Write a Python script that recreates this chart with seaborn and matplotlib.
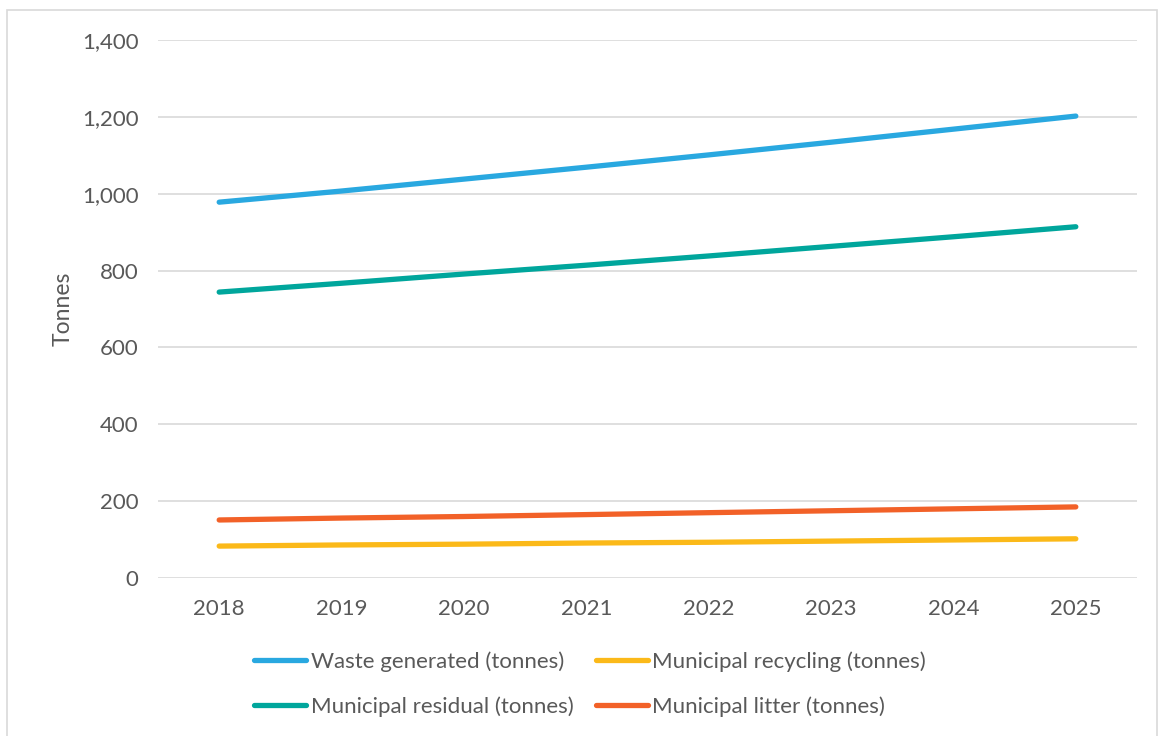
import matplotlib
matplotlib.use("Agg")
import matplotlib.pyplot as plt
from matplotlib.patches import Rectangle
from matplotlib.ticker import FuncFormatter
import seaborn as sns
import pandas as pd

years = ["2018", "2019", "2020", "2021", "2022", "2023", "2024", "2025"]
waste_generated = [978, 1007, 1038, 1069, 1101, 1134, 1168, 1202]
municipal_recycling = [83, 86, 88, 91, 93, 96, 99, 102]
municipal_residual = [744, 767, 791, 814, 838, 863, 888, 914]
municipal_litter = [151, 156, 160, 165, 170, 175, 180, 185]

series_names = ["Waste generated (tonnes)", "Municipal recycling (tonnes)",
                "Municipal residual (tonnes)", "Municipal litter (tonnes)"]
colors = ["#29A8E0", "#FBB919", "#00A69C", "#F26128"]

sns.set_theme(style="white")
plt.rcParams['font.family'] = ['Lato', 'DejaVu Sans']
txt = "#595959"

df = pd.DataFrame({
    "Year": years * 4,
    "Value": waste_generated + municipal_recycling + municipal_residual + municipal_litter,
    "Series": sum([[n] * len(years) for n in series_names], []),
})

fig = plt.figure(figsize=(11.6, 7.36), dpi=100)
ax = fig.add_axes([158 / 1160, 1 - 578 / 736, (1137 - 158) / 1160, (578 - 40) / 736])

lw = 3.8
sns.lineplot(data=df, x="Year", y="Value", hue="Series", palette=colors,
             hue_order=series_names, linewidth=lw, ax=ax, legend=False,
             solid_capstyle="round", sort=False)

ax.set_xlim(-0.5, 7.5)
ax.set_ylim(0, 1400)
ax.set_yticks(range(0, 1401, 200))
ax.yaxis.set_major_formatter(FuncFormatter(lambda v, p: f"{int(v):,}"))
ax.grid(axis="y", color="#d9d9d9", linewidth=1.2)
ax.set_axisbelow(True)
for s in ax.spines.values():
    s.set_visible(False)
ax.tick_params(axis="both", colors=txt, labelsize=16, length=0)
ax.tick_params(axis="x", pad=15)
ax.tick_params(axis="y", pad=14)
ax.set_xlabel("")
ax.set_ylabel("Tonnes", color=txt, fontsize=16.5, labelpad=6)

handles = [plt.Line2D([0], [0], color=c, linewidth=lw, solid_capstyle="round") for c in colors]
order = [0, 2, 1, 3]
leg = fig.legend([handles[i] for i in order], [series_names[i] for i in order],
                 loc="center", bbox_to_anchor=(590 / 1160, 1 - 684 / 736), ncol=2,
                 frameon=False, fontsize=16, labelcolor=txt, handlelength=2.35,
                 handletextpad=0.2, columnspacing=1.0, labelspacing=1.1)

fig.patches.append(Rectangle((7 / 1160, -0.05), (1157 - 7) / 1160, 1.05 - 10 / 736,
                             transform=fig.transFigure, fill=False,
                             edgecolor="#d9d9d9", linewidth=1.2))

fig.savefig("out.png", dpi=100)
